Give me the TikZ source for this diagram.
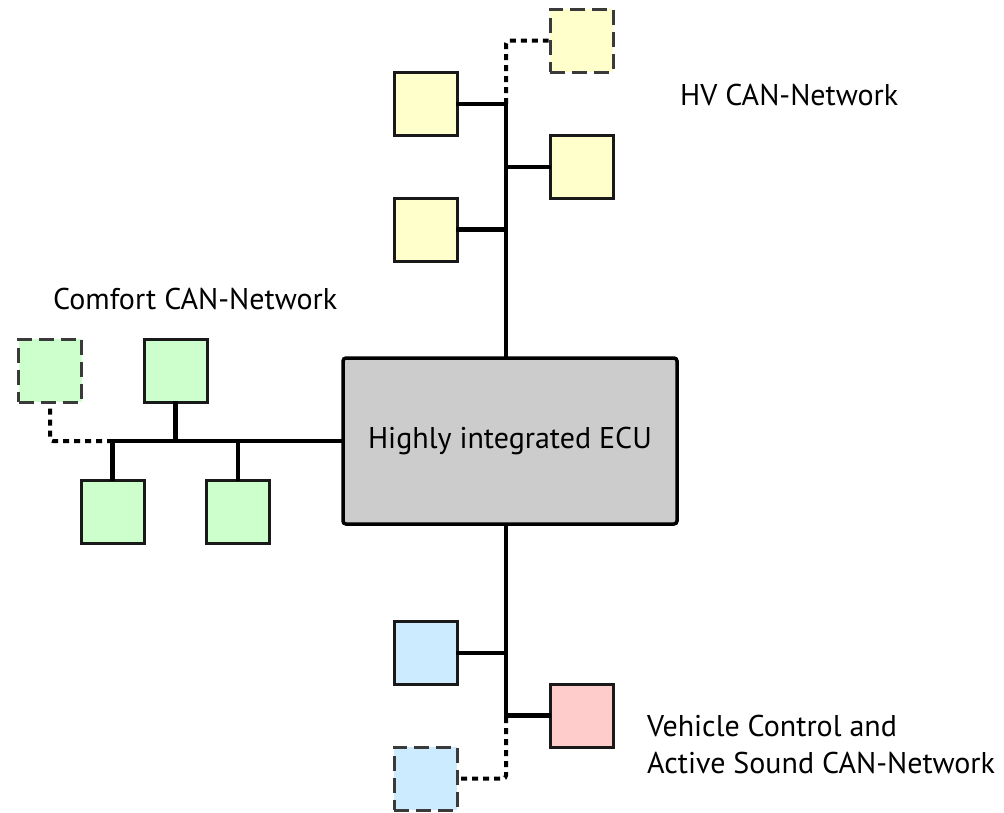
\documentclass[tikz,border=0pt]{standalone}
\usepackage{fontspec}
\setmainfont{PT Sans}
\definecolor{hvyel}{HTML}{FFFFCC}
\definecolor{cfgrn}{HTML}{CCFFCC}
\definecolor{vcblu}{HTML}{CCEBFF}
\definecolor{vcred}{HTML}{FFCCCC}
\definecolor{ecugray}{HTML}{CCCCCC}
\definecolor{dashgray}{HTML}{3A3A3A}
\tikzset{
  ecubox/.style={draw=black, line width=3.5pt, fill=ecugray, rounded corners=3pt, minimum width=334pt, minimum height=166pt, inner sep=0pt, font=\fontsize{30}{36}\selectfont, text=black},
  unit/.style={draw=black!90, line width=3pt, minimum size=63pt, inner sep=0pt},
  dunit/.style={draw=dashgray, line width=3pt, dash pattern=on 15pt off 7pt, minimum size=63pt, inner sep=0pt},
  bus/.style={line width=4.5pt, line cap=rect},
  dotbus/.style={line width=4pt, dash pattern=on 6pt off 5pt, rounded corners=3pt},
  lbl/.style={inner sep=0pt, anchor=base west, font=\fontsize{30}{37}\selectfont, text=black, align=left}
}
\begin{document}
\begin{tikzpicture}[x=1pt,y=-1pt]
\useasboundingbox (0,0) rectangle (1004,812);
% ECU
\node[ecubox] (ecu) at (510,441) {Highly integrated ECU};
% HV network
\node[dunit, fill=hvyel] (hv1) at (581.5,40.5) {};
\node[unit, fill=hvyel] (hv2) at (425.5,104) {};
\node[unit, fill=hvyel] (hv3) at (581.5,167) {};
\node[unit, fill=hvyel] (hv4) at (425.5,229.5) {};
\coordinate (hvtop) at (506,104);
\draw[bus] (hvtop) -- (hvtop |- ecu.north);
\draw[bus] (hv2.east) -- (hv2.east -| hvtop);
\draw[bus] (hv3.west) -- (hv3.west -| hvtop);
\draw[bus] (hv4.east) -- (hv4.east -| hvtop);
\draw[dotbus] (hvtop) -- (hvtop |- hv1.west) -- (hv1.west);
% Comfort network
\node[dunit, fill=cfgrn] (cf1) at (50,370.5) {};
\node[unit, fill=cfgrn] (cf2) at (175.5,370.5) {};
\node[unit, fill=cfgrn] (cf3) at (112.5,511.5) {};
\node[unit, fill=cfgrn] (cf4) at (238,511.5) {};
\coordinate (cfl) at (113,441);
\draw[bus] (cfl) -- (cfl -| ecu.west);
\draw[bus] (cf2.south) -- (cf2.south |- cfl);
\draw[bus] (cf3.north) -- (cf3.north |- cfl);
\draw[bus] (cf4.north) -- (cf4.north |- cfl);
\draw[dotbus] (cfl) -- (cf1.south |- cfl) -- (cf1.south);
% Vehicle control network
\node[unit, fill=vcblu] (vb1) at (425.5,653) {};
\node[unit, fill=vcred] (vr) at (582,715.5) {};
\node[dunit, fill=vcblu] (vb2) at (425.5,778.5) {};
\coordinate (vbot) at (506,717);
\draw[bus] (vbot) -- (vbot |- ecu.south);
\draw[bus] (vb1.east) -- (vb1.east -| vbot);
\draw[bus] (vr.west) -- (vr.west -| vbot);
\draw[dotbus] (vbot) -- (vbot |- vb2.east) -- (vb2.east);
% Labels
\node[lbl] (lhv) at (680,105) {HV CAN-Network};
\node[lbl] (lcf) at (53,309) {Comfort CAN-Network};
\node[lbl] (lvc1) at (647,736) {Vehicle Control and};
\node[lbl] (lvc2) at (647,773) {Active Sound CAN-Network};
\end{tikzpicture}
\end{document}
